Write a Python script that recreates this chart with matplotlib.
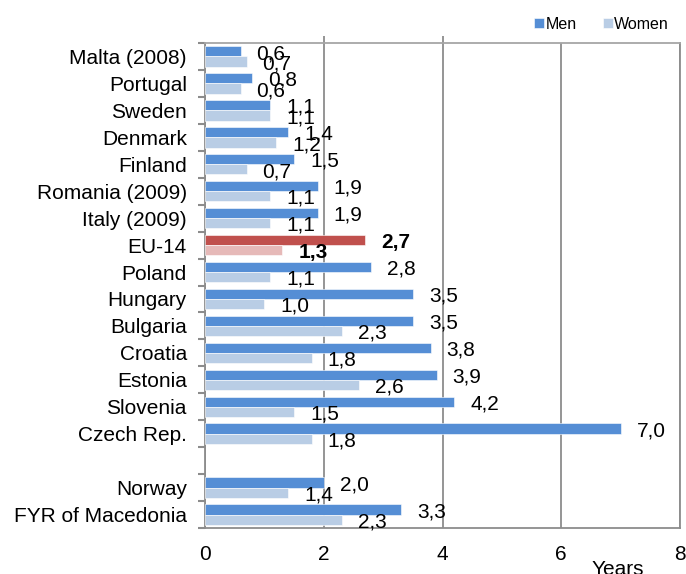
import matplotlib.pyplot as plt
import numpy as np

plt.rcParams['font.family'] = ['Liberation Sans', 'DejaVu Sans']

countries = ['Malta (2008)', 'Portugal', 'Sweden', 'Denmark', 'Finland',
             'Romania (2009)', 'Italy (2009)', 'EU-14', 'Poland', 'Hungary',
             'Bulgaria', 'Croatia', 'Estonia', 'Slovenia', 'Czech Rep.', '',
             'Norway', 'FYR of Macedonia']
men = [0.6, 0.8, 1.1, 1.4, 1.5, 1.9, 1.9, 2.7, 2.8, 3.5, 3.5, 3.8, 3.9, 4.2, 7.0,
       np.nan, 2.0, 3.3]
women = [0.7, 0.6, 1.1, 1.2, 0.7, 1.1, 1.1, 1.3, 1.1, 1.0, 2.3, 1.8, 2.6, 1.5, 1.8,
         np.nan, 1.4, 2.3]
highlight = 'EU-14'
xticks = [0, 2, 4, 6, 8]

men_col, women_col = '#558ed5', '#b9cde5'
eu_men_col, eu_women_col = '#c0504d', '#e6b9b8'
grid_col = '#8c8c8c'

fig = plt.figure(figsize=(6.86, 5.74), dpi=100)
ax = fig.add_axes([0.2988, 0.0801, 0.6925, 0.8450])

pos = np.arange(len(countries))
h = 0.38
mc = [eu_men_col if c == highlight else men_col for c in countries]
wc = [eu_women_col if c == highlight else women_col for c in countries]
ax.barh(pos - h / 2, men, height=h, color=mc, edgecolor='white', linewidth=0.4, zorder=3, label='Men')
ax.barh(pos + h / 2, women, height=h, color=wc, edgecolor='white', linewidth=0.4, zorder=3, label='Women')

# value labels, comma decimal
for i, c in enumerate(countries):
    if not c:
        continue
    w = 'bold' if c == highlight else 'normal'
    for val, off in ((men[i], -h / 2), (women[i], h / 2)):
        ax.annotate(f'{val:.1f}'.replace('.', ','), (val, pos[i] + off + 0.08),
                    xytext=(11.5, 0), textcoords='offset points', va='center',
                    ha='left', fontsize=15, fontweight=w, zorder=4)

ax.set_xlim(0, 8)
ax.set_ylim(len(countries) - 0.5, -0.5)
ax.set_xticks(xticks)
ax.set_xticklabels([str(t) for t in xticks], fontsize=15)
ax.tick_params(axis='x', length=0, pad=12)
ax.set_yticks(pos)
ax.set_yticklabels(countries, fontsize=15)
ax.tick_params(axis='y', which='major', length=0, pad=13)
ax.set_yticks(np.arange(len(countries) + 1) - 0.5, minor=True)
ax.tick_params(axis='y', which='minor', length=5, width=1.5, color=grid_col)

ax.grid(axis='x', color=grid_col, linewidth=1.3, zorder=0)
ax.set_axisbelow(True)
for s in ax.spines.values():
    s.set_color(grid_col)
    s.set_linewidth(1.3)
ax.spines['top'].set_color('#a6a6a6')

sec = ax.secondary_xaxis('top')
sec.set_ticks([2, 4])
sec.set_xticklabels([])
sec.tick_params(length=5, width=1.3, color=grid_col)
sec.spines['top'].set_visible(False)

ax.text(0.868, -0.085, 'Years', transform=ax.transAxes, fontsize=15, ha='center', va='center')

leg = ax.legend(loc='lower right', bbox_to_anchor=(0.99, 1.01), ncol=2, frameon=False,
                fontsize=11.5, handlelength=0.6, handleheight=0.6, handletextpad=0.1,
                columnspacing=1.65, borderaxespad=0)

fig.savefig('out.png', dpi=100)
